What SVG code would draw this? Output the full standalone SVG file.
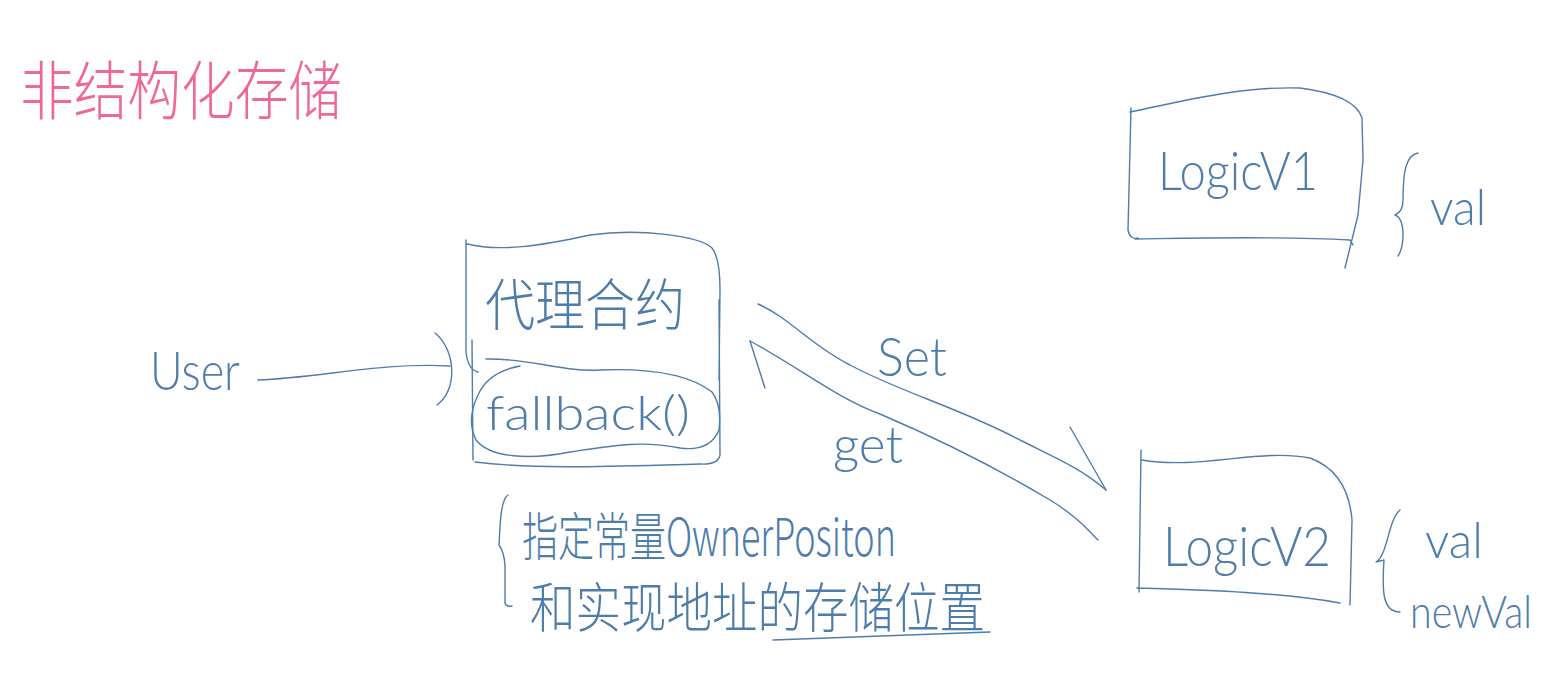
<svg xmlns="http://www.w3.org/2000/svg" width="1556" height="686" viewBox="0 0 1556 686">
<style>
.s{fill:none;stroke:#4e7cab;stroke-width:1.4;stroke-linecap:round;stroke-linejoin:round}
.t{fill:#4e7cab;font-family:Lato,"Liberation Sans","Noto Sans CJK SC",sans-serif;font-weight:300}
.c{fill:#4e7cab;font-family:"Noto Sans CJK SC","Liberation Sans",sans-serif;font-weight:300}
.p{fill:#f0689a;font-family:"Noto Sans CJK SC",sans-serif;font-weight:300}
</style>
<rect width="1556" height="686" fill="#ffffff"/>
<g id="title">
<text class="p" x="20" y="114" font-size="64" textLength="322" lengthAdjust="spacingAndGlyphs">非结构化存储</text>
</g>
<g id="user">
<text class="t" x="150" y="390" font-size="54" textLength="90" lengthAdjust="spacingAndGlyphs">User</text>
</g>
<g id="proxy">
<path class="s" d="M467,244 C500,252 540,246 590,235 C640,228 700,236 712,248 Q720,258 720,290 L719,380 M719,300 L720,455 Q718,465 700,464 C620,466 540,470 475,462 M472,340 L473,460 M466,240 L466,352 Q468,370 478,372"/>
<path class="s" d="M486,359 C530,358 560,372 600,370 C650,368 690,375 712,392 Q722,405 719,430 Q710,452 680,448 C640,440 610,446 570,452 C530,460 490,458 476,440 Q466,420 478,395 Q488,372 520,366"/>
<text class="c" x="485" y="325" font-size="56" textLength="200" lengthAdjust="spacingAndGlyphs">代理合约</text>
<text class="t" x="486" y="430" font-size="48" textLength="204" lengthAdjust="spacingAndGlyphs">fallback()</text>
</g>
<g id="logicV1">
<path class="s" d="M1130,112 C1180,102 1240,86 1300,88 Q1355,95 1362,118 L1363,160 L1358,215 L1345,268 M1135,239 C1200,238 1280,236 1350,240 L1353,245 M1131,108 L1128,230 Q1130,240 1138,238"/>
<text class="t" x="1158" y="190" font-size="54" textLength="160" lengthAdjust="spacingAndGlyphs">LogicV1</text>
<path class="s" d="M1418,153 C1405,155 1403,175 1403,200 Q1403,212 1395,215 Q1403,218 1403,235 C1403,248 1400,253 1398,256"/>
<text class="t" x="1430" y="225" font-size="50" textLength="56" lengthAdjust="spacingAndGlyphs">val</text>
</g>
<g id="logicV2">
<path class="s" d="M1142,460 C1200,470 1260,448 1310,458 Q1348,472 1352,520 L1350,605 M1141,450 L1139,592 M1137,588 C1200,590 1280,592 1340,603"/>
<text class="t" x="1163" y="566" font-size="56" textLength="168" lengthAdjust="spacingAndGlyphs">LogicV2</text>
<path class="s" d="M1400,510 C1388,520 1388,555 1376,562 L1384,560 C1382,590 1382,612 1400,612"/>
<text class="t" x="1425" y="558" font-size="50" textLength="58" lengthAdjust="spacingAndGlyphs">val</text>
<text class="t" x="1410" y="628" font-size="46" textLength="122" lengthAdjust="spacingAndGlyphs">newVal</text>
</g>
<g id="note">
<path class="s" d="M508,495 C500,500 500,530 499,545 Q504,552 505,565 L505,603 Q506,607 512,606"/>
<text class="c" x="522" y="556" font-size="52" textLength="374" lengthAdjust="spacingAndGlyphs">指定常量OwnerPositon</text>
<text class="c" x="530" y="628" font-size="54" textLength="455" lengthAdjust="spacingAndGlyphs">和实现地址的存储位置</text>
<path class="s" d="M773,640 L990,632"/>
</g>
<g id="connectors">
<path class="s" d="M258,380 C320,378 380,362 450,366"/>
<path class="s" d="M435,333 C456,350 458,390 437,405"/>
<path class="s" d="M758,304 C790,318 810,345 850,365 C900,392 960,408 1020,440 C1060,460 1080,468 1106,490"/>
<path class="s" d="M1070,427 L1106,490"/>
<text class="t" x="877" y="376" font-size="54" textLength="70" lengthAdjust="spacingAndGlyphs">Set</text>
<path class="s" d="M750,341 C800,368 840,400 880,414 C950,444 1000,470 1050,500 C1075,515 1088,530 1098,540"/>
<path class="s" d="M750,341 L765,388"/>
<text class="t" x="833" y="463" font-size="52" textLength="70" lengthAdjust="spacingAndGlyphs">get</text>
</g>
</svg>
